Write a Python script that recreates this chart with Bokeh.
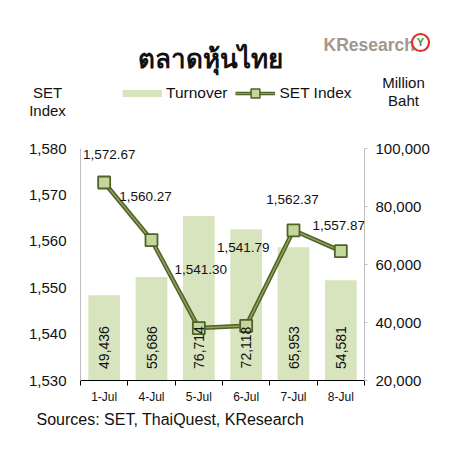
from bokeh.plotting import figure
from bokeh.layouts import column
from bokeh.models import (Range1d, LinearAxis, FixedTicker, NumeralTickFormatter,
                          ColumnDataSource, LabelSet, Legend, LegendItem)
from bokeh.core.properties import value
from bokeh.embed import file_html
from bokeh.resources import INLINE
import math

# ---- data ----
dates = ["1-Jul", "4-Jul", "5-Jul", "6-Jul", "7-Jul", "8-Jul"]
set_index = [1572.67, 1560.27, 1541.30, 1541.79, 1562.37, 1557.87]
turnover = [49436, 55686, 76714, 72118, 65953, 54581]
left_ticks = [1530, 1540, 1550, 1560, 1570, 1580]
right_ticks = [20000, 40000, 60000, 80000, 100000]
title_text = "ตลาดหุ้นไทย"
source_text = "Sources: SET, ThaiQuest, KResearch"

# ---- style (label offsets in px, not data) ----
lbl_dx = [5, -6, 2, -3, -1, -2]
lbl_dy = [28, 44, 59, 78, 31, 26]

FONT = "Liberation Sans"
BAR = "#d7e4bd"
DARK = "#4f6228"
MID = "#8fa05a"
MARK = "#c3d69b"
TXT = "#111111"

W = 472
HEAD_H = 130
FOOT_H = 60
FL, FR, FT, FB = 80, 108, 18, 26
MAIN_H = FT + 232 + FB

n = len(dates)
xs = list(range(n))

src = ColumnDataSource(dict(
    x=xs, date=dates, idx=set_index, turn=turnover,
    idx_txt=[f"{v:,.2f}" for v in set_index],
    turn_txt=[f"{v:,}" for v in turnover],
    base=[left_ticks[0]] * n,
    dx=lbl_dx, dy=lbl_dy,
))


def blank(h):
    f = figure(width=W, height=h, output_backend="svg", toolbar_location=None,
               x_range=Range1d(0, W), y_range=Range1d(h, 0),
               x_axis_type=None, y_axis_type=None,
               min_border=0, min_border_left=0, min_border_right=0,
               min_border_top=0, min_border_bottom=0)
    f.outline_line_color = None
    f.background_fill_color = "white"
    f.border_fill_color = "white"
    f.frame_align = False
    return f


# ---------------- header ----------------
hd = blank(HEAD_H)


def htext(fig, x, y, t, size, align="center", color=TXT, font=FONT, style="normal"):
    fig.text(x=[x], y=[y], text=[t], text_font=value(font), text_font_size=size,
             text_font_style=style, text_color=color, text_align=align,
             text_baseline="middle")


htext(hd, 210, 57, title_text, "26px", font="Noto Sans", style="bold")
htext(hd, 47, 92, "SET", "15px")
htext(hd, 47, 110, "Index", "15px")
htext(hd, 403, 82, "Million", "15px")
htext(hd, 403, 100, "Baht", "15px")
htext(hd, 323, 44, "KResearch", "17.5px", align="left", color="#a1978f", style="bold")
hd.scatter(x=[420], y=[42], marker="circle", size=17, fill_color="white",
           line_color="#e0302a", line_width=2.2)
htext(hd, 420, 41, "Y", "11px", color="#2e9a44", style="bold")

# legend swatches (same data, drawn out of this header's view)
lg_bar = hd.line("x", "turn", source=src, line_color=BAR, line_width=7)
lg_out = hd.line("x", "idx", source=src, line_color=DARK, line_width=3.5)
lg_in = hd.line("x", "idx", source=src, line_color=MID, line_width=1.2)
lg_sq = hd.scatter("x", "idx", source=src, marker="square", size=9,
                   fill_color=MARK, line_color=DARK, line_width=1.5)
legend = Legend(items=[LegendItem(label="Turnover", renderers=[lg_bar]),
                       LegendItem(label="SET Index", renderers=[lg_out, lg_in, lg_sq])],
                orientation="horizontal", location=(122, HEAD_H - 104),
                glyph_width=40, glyph_height=22, label_standoff=4, spacing=8,
                padding=0, margin=0, border_line_color=None,
                background_fill_alpha=0,
                label_text_font=FONT, label_text_font_size="15.5px",
                label_text_color=TXT, label_height=22, label_text_baseline="middle")
hd.add_layout(legend, "center")

# ---------------- main chart ----------------
p = figure(width=W, height=MAIN_H, output_backend="svg", toolbar_location=None,
           x_range=Range1d(-0.5, n - 0.5),
           y_range=Range1d(left_ticks[0], left_ticks[-1]),
           x_axis_type=None, y_axis_type=None,
           min_border_left=FL, min_border_right=FR,
           min_border_top=FT, min_border_bottom=FB)
p.outline_line_color = None
p.background_fill_color = "white"
p.border_fill_color = "white"
p.frame_align = False
p.extra_y_ranges = {"turn": Range1d(right_ticks[0], right_ticks[-1])}

xaxis = LinearAxis(ticker=FixedTicker(ticks=xs, minor_ticks=[i - 0.5 for i in range(n + 1)]),
                   major_label_overrides={i: d for i, d in enumerate(dates)})
xaxis.axis_line_color = "black"
xaxis.major_tick_line_color = None
xaxis.minor_tick_line_color = "black"
xaxis.minor_tick_out = 5
xaxis.minor_tick_in = 0
xaxis.major_label_standoff = 3
xaxis.major_label_text_font = FONT
xaxis.major_label_text_font_size = "12px"
xaxis.major_label_text_color = TXT
p.add_layout(xaxis, "below")

yl = LinearAxis(ticker=FixedTicker(ticks=left_ticks), formatter=NumeralTickFormatter(format="0,0"))
yl.axis_line_color = "#bfbfbf"
yl.major_tick_line_color = None
yl.minor_tick_line_color = None
yl.major_label_standoff = 8
yl.major_label_text_font = FONT
yl.major_label_text_font_size = "15px"
yl.major_label_text_color = TXT
p.add_layout(yl, "left")

yr = LinearAxis(y_range_name="turn", ticker=FixedTicker(ticks=right_ticks),
                formatter=NumeralTickFormatter(format="0,0"))
yr.axis_line_color = "#bfbfbf"
yr.major_tick_line_color = "#bfbfbf"
yr.major_tick_out = 3
yr.major_tick_in = 0
yr.minor_tick_line_color = None
yr.major_label_standoff = 8
yr.major_label_text_font = FONT
yr.major_label_text_font_size = "15px"
yr.major_label_text_color = TXT
p.add_layout(yr, "right")

p.vbar(x="x", top="turn", bottom=right_ticks[0], width=0.67, source=src,
       y_range_name="turn", fill_color=BAR, line_color=None)
p.line("x", "idx", source=src, line_color=DARK, line_width=4.5)
p.line("x", "idx", source=src, line_color=MID, line_width=1.5)
p.scatter("x", "idx", source=src, marker="square", size=12,
          fill_color=MARK, line_color=DARK, line_width=1.8)

p.add_layout(LabelSet(x="x", y="base", text="turn_txt", source=src, angle=math.pi / 2,
                      y_offset=33, text_align="center", text_baseline="middle",
                      text_font=value(FONT), text_font_size="14px", text_color=TXT))
p.add_layout(LabelSet(x="x", y="idx", text="idx_txt", source=src,
                      x_offset="dx", y_offset="dy", text_align="center",
                      text_baseline="middle",
                      text_font=value(FONT), text_font_size="13.5px", text_color=TXT))

# ---------------- footer ----------------
ft = blank(FOOT_H)
htext(ft, 36, 419 - (HEAD_H + MAIN_H), source_text, "16px", align="left")

layout = column(hd, p, ft, spacing=0)
open("out.html", "w").write(file_html(layout, INLINE))
